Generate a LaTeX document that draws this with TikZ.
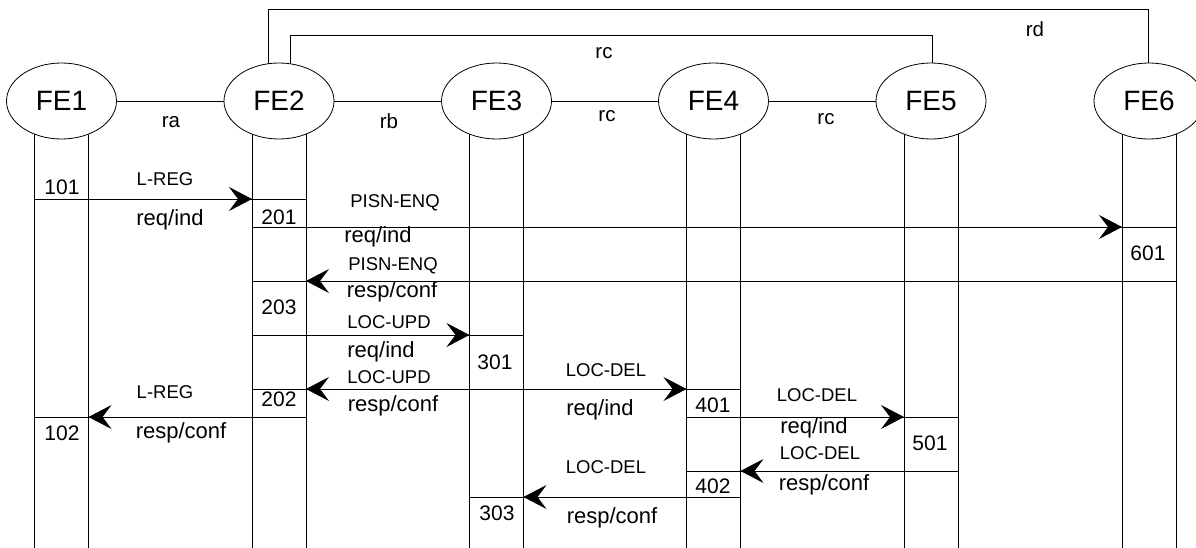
\documentclass[tikz,border=0pt]{standalone}
\usepackage{fontspec}
\setmainfont{Liberation Sans}
\usetikzlibrary{shapes.geometric,arrows.meta,backgrounds}
\begin{document}
\begin{tikzpicture}[x=1pt,y=-1pt,
  fe/.style={draw,ellipse,fill=white,minimum width=110pt,minimum height=76pt,inner sep=0pt,line width=0.8pt,font=\fontsize{28}{30}\selectfont},
  ln/.style={line width=0.8pt},
  arr/.style={line width=0.8pt,-{Stealth[length=23pt,width=24pt,inset=9pt]}},
  msg/.style={font=\fontsize{18.5}{20}\selectfont,inner sep=0pt},
  prim/.style={font=\fontsize{22}{24}\selectfont,inner sep=0pt},
  num/.style={font=\fontsize{21}{23}\selectfont,inner sep=0pt},
  rl/.style={font=\fontsize{20.5}{22}\selectfont,inner sep=0pt}]
\useasboundingbox (0,0) rectangle (1196,548);

% functional entities
\node[fe] (fe1) at (61.5,101) {FE1};
\node[fe] (fe2) at (279,101) {FE2};
\node[fe] (fe3) at (496.5,101) {FE3};
\node[fe] (fe4) at (713.5,101) {FE4};
\node[fe] (fe5) at (931,101) {FE5};
\node[fe] (fe6) at (1149,101) {FE6};

\begin{scope}[on background layer]
  \foreach \n in {1,...,6}{
    \draw[ln] ([xshift=-27pt]fe\n.center) -- ++(0,447);
    \draw[ln] ([xshift=27pt]fe\n.center) -- ++(0,447);
  }
  \draw[ln] ([xshift=-11pt]fe2.center) -- ++(0,-92) -| ([xshift=-1pt]fe6.center);
  \draw[ln] ([xshift=11pt]fe2.center) -- ++(0,-66) -| ([xshift=1pt]fe5.center);
\end{scope}

% relationships
\draw[ln] (fe1) -- (fe2);
\draw[ln] (fe2) -- (fe3);
\draw[ln] (fe3) -- (fe4);
\draw[ln] (fe4) -- (fe5);
\node[rl] (ra) at (171,122) {ra};
\node[rl] (rb) at (389,121.5) {rb};
\node[rl] (rc1) at (607,116.5) {rc};
\node[rl] (rc2) at (826,119) {rc};
\node[rl] (rc3) at (604,53.5) {rc};
\node[rl] (rd) at (1035,29.5) {rd};

% separator lines
\path (34.5,199) coordinate (s1a) (306,199) coordinate (s1b);
\path (252,227) coordinate (s2a) (1176,227) coordinate (s2b);
\path (252,281) coordinate (s3a) (1176,281) coordinate (s3b);
\path (252,335) coordinate (s4a) (523.5,335) coordinate (s4b);
\path (252,389) coordinate (s5a) (740.5,389) coordinate (s5b);
\path (34.5,417) coordinate (s6a) (306,417) coordinate (s6b);
\path (686.5,417) coordinate (s7a) (958,417) coordinate (s7b);
\path (686.5,471) coordinate (s8a) (958,471) coordinate (s8b);
\path (469.5,497) coordinate (s9a) (740.5,497) coordinate (s9b);
\foreach \k in {1,...,9}{\draw[ln] (s\k a) -- (s\k b);}

% message arrows
\path (88.5,199) coordinate (m1a) (252,199) coordinate (m1b);
\path (306,227) coordinate (m2a) (1122,227) coordinate (m2b);
\path (1122,281) coordinate (m3a) (306,281) coordinate (m3b);
\path (306,335) coordinate (m4a) (469.5,335) coordinate (m4b);
\path (469.5,389) coordinate (m5a) (306,389) coordinate (m5b);
\path (523.5,389) coordinate (m6a) (686.5,389) coordinate (m6b);
\path (252,417) coordinate (m7a) (88.5,417) coordinate (m7b);
\path (740.5,417) coordinate (m8a) (904,417) coordinate (m8b);
\path (904,471) coordinate (m9a) (740.5,471) coordinate (m9b);
\path (686.5,497) coordinate (m10a) (523.5,497) coordinate (m10b);
\foreach \k in {1,...,10}{\draw[arr] (m\k a) -- (m\k b);}

% labels
\node[msg] (t1) at (165,179) {L-REG};
\node[prim] (p1) at (170,220) {req/ind};
\node[num] (n101) at (62,187) {101};
\node[num] (n201) at (279,217) {201};

\node[msg] (t2) at (395,203) {PISN-ENQ};
\node[prim] (p2) at (378,237) {req/ind};
\node[num] (n601) at (1148,253) {601};

\node[msg] (t3) at (393,266) {PISN-ENQ};
\node[prim] (p3) at (392,292) {resp/conf};
\node[num] (n203) at (279,307) {203};

\node[msg] (t4) at (389,322) {LOC-UPD};
\node[prim] (p4) at (381,352) {req/ind};
\node[num] (n301) at (495,362) {301};

\node[msg] (t5) at (389,377) {LOC-UPD};
\node[prim] (p5) at (393,406) {resp/conf};
\node[num] (n202) at (279,399) {202};

\node[msg] (t6) at (606,370) {LOC-DEL};
\node[prim] (p6) at (600,410) {req/ind};
\node[num] (n401) at (713,405) {401};

\node[msg] (t7) at (165,392) {L-REG};
\node[prim] (p7) at (181,433) {resp/conf};
\node[num] (n102) at (62,433) {102};

\node[msg] (t8) at (817,395) {LOC-DEL};
\node[prim] (p8) at (814,428) {req/ind};
\node[num] (n501) at (930,443) {501};

\node[msg] (t9) at (820,453) {LOC-DEL};
\node[prim] (p9) at (824,485) {resp/conf};
\node[num] (n402) at (713,486) {402};

\node[msg] (t10) at (606,467) {LOC-DEL};
\node[prim] (p10) at (612,518) {resp/conf};
\node[num] (n303) at (497,513) {303};
\end{tikzpicture}
\end{document}
